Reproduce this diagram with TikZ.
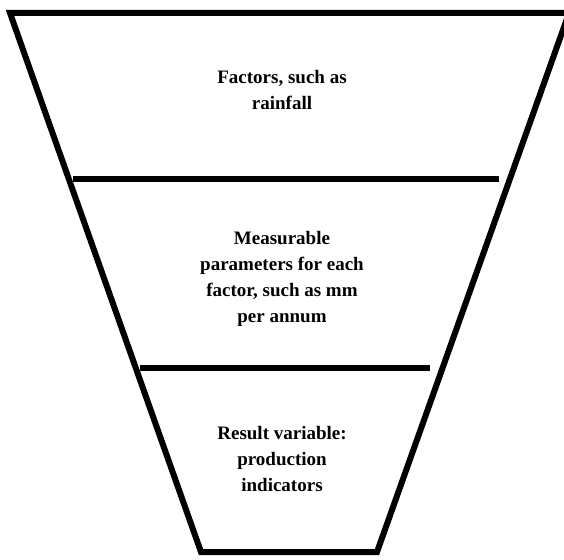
\documentclass[tikz,border=0pt]{standalone}
\usepackage{fontspec}
\setmainfont{Liberation Serif}
\begin{document}
\begin{tikzpicture}[x=1pt,y=-1pt,
  funnelline/.style={line width=6pt, black, line join=miter},
  divider/.style={line width=6pt, black},
  lbl/.style={font=\bfseries\fontsize{19}{26}\selectfont, align=center, inner sep=0pt}]
\useasboundingbox (0,0) rectangle (564,559);
\clip (0,0) rectangle (564,559);
\coordinate (tl) at (10,13);
\coordinate (tr) at (569,13);
\coordinate (bl) at (201,552);
\coordinate (br) at (377,552);
\draw[funnelline] (tr) -- (tl) -- (bl) -- (br) -- cycle;
\coordinate (d1l) at (73,178.5);
\coordinate (d1r) at (499,178.5);
\coordinate (d2l) at (140,367.5);
\coordinate (d2r) at (430,367.5);
\draw[divider] (d1l) -- (d1r);
\draw[divider] (d2l) -- (d2r);
\node[lbl] (t1) at (282,90) {Factors, such as\\rainfall};
\node[lbl] (t2) at (282,279) {Measurable\\parameters for each\\factor, such as mm\\per annum};
\node[lbl] (t3) at (282,459) {Result variable:\\production\\indicators};
\end{tikzpicture}
\end{document}
